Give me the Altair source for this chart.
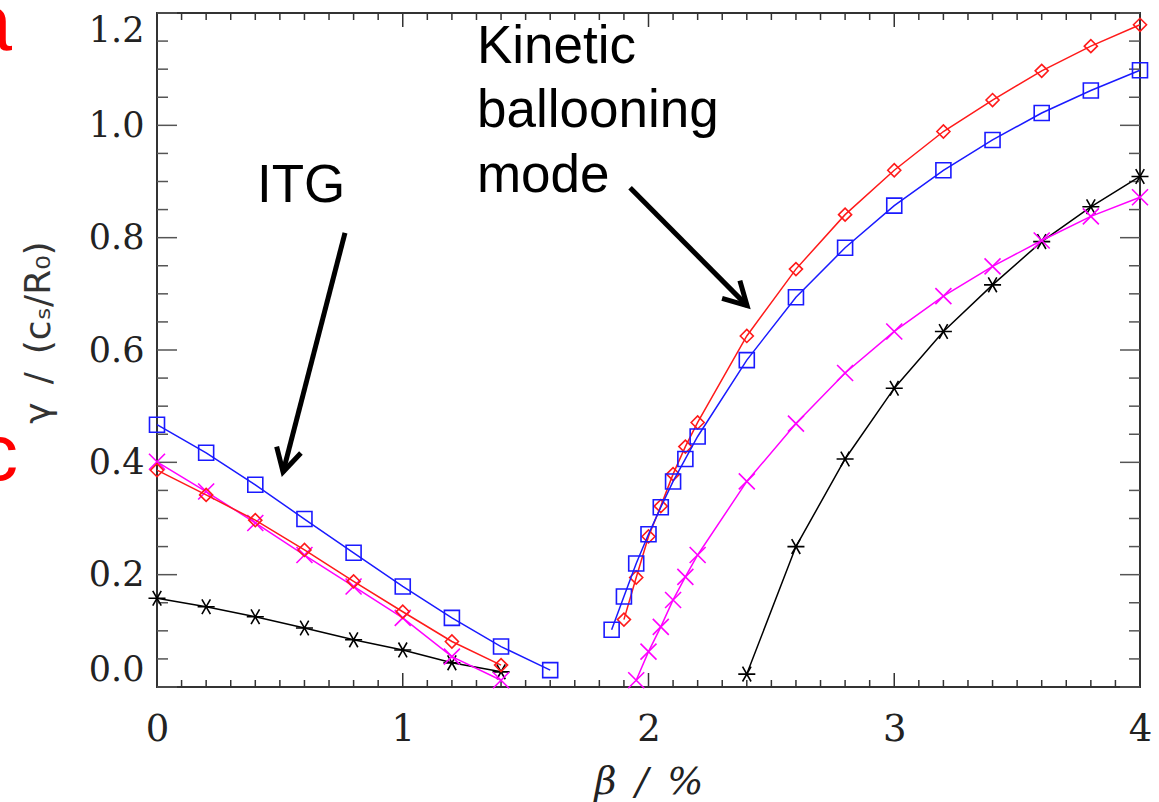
import altair as alt
import pandas as pd

# ---------------- data ----------------
# ITG branch (low beta)
itg_x_blue = [0.0, 0.2, 0.4, 0.6, 0.8, 1.0, 1.2, 1.4, 1.6]
itg_blue = [0.467, 0.417, 0.360, 0.299, 0.239, 0.179, 0.123, 0.072, 0.030]
itg_x = [0.0, 0.2, 0.4, 0.6, 0.8, 1.0, 1.2, 1.4]
itg_red = [0.386, 0.342, 0.297, 0.244, 0.188, 0.134, 0.081, 0.039]
itg_magenta = [0.401, 0.348, 0.292, 0.235, 0.179, 0.123, 0.054, 0.012]
itg_black = [0.158, 0.143, 0.125, 0.105, 0.084, 0.066, 0.043, 0.027]

# Kinetic ballooning mode branch (high beta)
kbm_x_blue = [1.85, 1.9, 1.95, 2.0, 2.05, 2.1, 2.15, 2.2, 2.4, 2.6, 2.8, 3.0, 3.2, 3.4, 3.6, 3.8, 4.0]
kbm_blue = [0.102, 0.161, 0.220, 0.272, 0.320, 0.366, 0.406, 0.446, 0.582, 0.694, 0.782, 0.857, 0.920, 0.974, 1.022, 1.062, 1.098]
kbm_x_red = [1.9, 1.95, 2.0, 2.05, 2.1, 2.15, 2.2, 2.4, 2.6, 2.8, 3.0, 3.2, 3.4, 3.6, 3.8, 4.0]
kbm_red = [0.120, 0.195, 0.268, 0.322, 0.379, 0.428, 0.471, 0.625, 0.744, 0.841, 0.920, 0.989, 1.045, 1.097, 1.141, 1.179]
kbm_x_magenta = [1.95, 2.0, 2.05, 2.1, 2.15, 2.2, 2.4, 2.6, 2.8, 3.0, 3.2, 3.4, 3.6, 3.8, 4.0]
kbm_magenta = [0.012, 0.063, 0.107, 0.155, 0.196, 0.235, 0.366, 0.469, 0.559, 0.633, 0.696, 0.749, 0.795, 0.838, 0.872]
kbm_x_black = [2.4, 2.6, 2.8, 3.0, 3.2, 3.4, 3.6, 3.8, 4.0]
kbm_black = [0.023, 0.250, 0.406, 0.532, 0.633, 0.716, 0.793, 0.855, 0.909]

# axis ticks
x_major = [0, 1, 2, 3, 4]
x_minor = [round(i * 0.1, 2) for i in range(41) if i % 10 != 0]
y_major = [0.0, 0.2, 0.4, 0.6, 0.8, 1.0, 1.2]
y_minor = [round(i * 0.05, 2) for i in range(25) if i % 4 != 0]

# annotations
label_text = ["ITG", "Kinetic", "ballooning", "mode"]
label_x = [0.407, 1.302, 1.302, 1.302]
label_y = [0.864, 1.111, 0.997, 0.882]
panel_text = ["a", "c"]
panel_x = [-0.590, -0.566]
panel_y = [1.1345, 0.3687]
arrow_names = ["ITG", "KBM"]
arrow_x0 = [0.765, 1.925]
arrow_y0 = [0.8085, 0.889]
arrow_x1 = [0.513, 2.401]
arrow_y1 = [0.383, 0.679]
arrow_angle = [104.5, 45.2]

X_TITLE = "β\u2002/\u2002%"
Y_TITLE = "γ\u2002/\u2002(cₛ/R₀)"

# ---------------- chart ----------------
W, H = 983, 674
xs = alt.Scale(domain=[0, 4], nice=False, zero=False)
ys = alt.Scale(domain=[0, 1.2], nice=False, zero=False)

AX = alt.Axis(
    values=x_major, format="d", ticks=False, tickSize=0, domain=False, grid=False,
    labelFlush=False, labelOverlap=False,
    labelFont="DejaVu Serif", labelFontSize=37, labelColor="#222", labelPadding=24,
    title=X_TITLE, titleFont="DejaVu Serif", titleFontSize=38, titleFontWeight="normal",
    titleFontStyle="italic", titleColor="#222", titleBaseline="alphabetic", titleY=106)
AY = alt.Axis(
    values=y_major, format=".1f", ticks=False, tickSize=0, domain=False, grid=False,
    labelFlush=True, labelOverlap=False,
    labelFont="DejaVu Serif", labelFontSize=35, labelColor="#222", labelPadding=13,
    title=Y_TITLE, titleFont="DejaVu Sans", titleFontSize=36, titleFontWeight="normal",
    titleColor="#333", titleAngle=270, titleX=-119, titleY=319, titleAlign="center",
    titleBaseline="middle")


def X(field):
    return alt.X(field, scale=xs, axis=AX, title=X_TITLE)


def Y(field):
    return alt.Y(field, scale=ys, axis=AY, title=Y_TITLE)


def series_df(parts):
    rows = []
    for branch, xv, yv in parts:
        for a, b in zip(xv, yv):
            rows.append({"x": a, "y": b, "branch": branch})
    return pd.DataFrame(rows)


STAR = "M-1,0L1,0M-0.5,-0.87L0.5,0.87M-0.5,0.87L0.5,-0.87"
XMARK = "M-1,-1L1,1M-1,1L1,-1"
HEAD = "M-1,-0.55L0,0L-1,0.55"

series = [
    ("black", "#000000", STAR, 290, [("b1", itg_x, itg_black), ("b2", kbm_x_black, kbm_black)]),
    ("magenta", "#ff00ff", XMARK, 256, [("m1", itg_x, itg_magenta), ("m2", kbm_x_magenta, kbm_magenta)]),
    ("red", "#ff1a1a", "diamond", 170, [("r1", itg_x, itg_red), ("r2", kbm_x_red, kbm_red)]),
    ("blue", "#1a1aff", "square", 225, [("u1", itg_x_blue, itg_blue), ("u2", kbm_x_blue, kbm_blue)]),
]

layers = []


# ticks pointing inward on all four sides
def xticks(vals, length, top):
    df = pd.DataFrame({"x": vals})
    if top:
        y0, y1 = 0, length
    else:
        y0, y1 = H, H - length
    return alt.Chart(df).mark_rule(color="#333", strokeWidth=1.5).encode(
        x=X("x:Q"), y=alt.value(y0), y2=alt.value(y1))


def yticks(vals, length, right):
    df = pd.DataFrame({"y": vals})
    if right:
        x0, x1 = W, W - length
    else:
        x0, x1 = 0, length
    return alt.Chart(df).mark_rule(color="#555", strokeWidth=1.5).encode(
        y=Y("y:Q"), x=alt.value(x0), x2=alt.value(x1))


for top in (False, True):
    layers.append(xticks(x_major, 14, top))
    layers.append(xticks(x_minor, 7, top))
for right in (False, True):
    layers.append(yticks(y_major, 20, right))
    layers.append(yticks(y_minor, 11, right))

# data series
for name, color, shape, size, parts in series:
    df = series_df(parts)
    layers.append(alt.Chart(df).mark_line(color=color, strokeWidth=1.5).encode(
        x=X("x:Q"), y=Y("y:Q"), detail="branch:N"))
    layers.append(alt.Chart(df).mark_point(shape=shape, size=size, color=color, filled=False,
                                           strokeWidth=1.6, opacity=1).encode(
        x=X("x:Q"), y=Y("y:Q")))

# arrows
arrow_rows = []
for n, a0, b0, a1, b1 in zip(arrow_names, arrow_x0, arrow_y0, arrow_x1, arrow_y1):
    arrow_rows.append({"arrow": n, "x": a0, "y": b0, "k": 0})
    arrow_rows.append({"arrow": n, "x": a1, "y": b1, "k": 1})
arrow_df = pd.DataFrame(arrow_rows)
layers.append(alt.Chart(arrow_df).mark_line(color="black", strokeWidth=5).encode(
    x=X("x:Q"), y=Y("y:Q"), detail="arrow:N", order="k:Q"))
head_df = pd.DataFrame({"x": arrow_x1, "y": arrow_y1, "angle": arrow_angle})
layers.append(alt.Chart(head_df).mark_point(shape=HEAD, size=2080, filled=False, color="black",
                                            strokeWidth=5, opacity=1).encode(
    x=X("x:Q"), y=Y("y:Q"), angle=alt.Angle("angle:Q", scale=None)))

# annotation text
lab_df = pd.DataFrame({"t": label_text, "x": label_x, "y": label_y})
layers.append(alt.Chart(lab_df).mark_text(font="Liberation Sans", fontSize=53, align="left",
                                          baseline="alphabetic", color="black").encode(
    x=X("x:Q"), y=Y("y:Q"), text="t:N"))
pan_df = pd.DataFrame({"t": panel_text, "x": panel_x, "y": panel_y})
layers.append(alt.Chart(pan_df).mark_text(font="Liberation Sans", fontSize=80, align="right",
                                          baseline="alphabetic", color="#ff0000").encode(
    x=X("x:Q"), y=Y("y:Q"), text="t:N"))

chart = alt.layer(*layers).properties(
    width=W, height=H,
    autosize=alt.AutoSizeParams(type="none"),
    padding={"left": 157, "top": 13, "right": 19, "bottom": 115},
    background="white",
).configure_view(stroke="#333", strokeWidth=2)

chart.save("out.html", embed_options={"renderer": "svg", "actions": False})
